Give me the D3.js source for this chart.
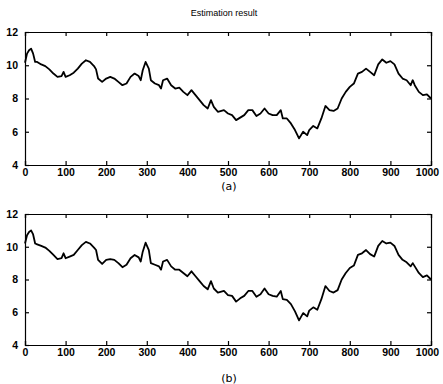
<!DOCTYPE html>
<html>
<head>
<meta charset="utf-8">
<script src="https://cdn.jsdelivr.net/npm/d3@7"></script>
<style>
  body { margin: 0; background: #fff; }
  svg text { font-family: "Liberation Sans", Arial, sans-serif; fill: #000; }
</style>
</head>
<body>
<div id="chart"></div>
<script>
// sample index along the run
const steps = [0, 5, 10, 15, 20, 25, 30, 40, 50, 60, 70, 80, 90, 95, 100, 110, 120, 130, 140, 150,
  160, 170, 175, 180, 190, 200, 210, 220, 230, 240, 250, 260, 270, 280, 285, 290, 297, 305, 310, 320,
  330, 335, 340, 350, 360, 370, 380, 390, 400, 410, 420, 430, 440, 450, 458, 465, 475, 490, 500, 510,
  520, 530, 540, 550, 560, 570, 580, 590, 600, 610, 620, 630, 635, 645, 655, 665, 675, 685, 695, 700,
  710, 720, 730, 740, 750, 760, 770, 780, 790, 800, 810, 820, 830, 840, 850, 860, 870, 880, 890, 900,
  910, 920, 930, 940, 950, 955, 960, 970, 980, 990, 1000];

// panel (a)
const seriesA = [10.15, 10.7, 10.9, 11.0, 10.7, 10.2, 10.2, 10.05, 9.95, 9.75, 9.5, 9.3, 9.35, 9.6, 9.3, 9.4, 9.55, 9.8, 10.1, 10.3,
  10.2, 9.95, 9.75, 9.2, 9.0, 9.2, 9.3, 9.2, 9.0, 8.8, 8.9, 9.3, 9.5, 9.35, 9.1, 9.7, 10.2, 9.8, 9.1, 8.9,
  8.8, 8.6, 9.1, 9.2, 8.8, 8.6, 8.65, 8.4, 8.2, 8.5, 8.2, 7.9, 7.6, 7.4, 7.9, 7.5, 7.2, 7.3, 7.1, 7.0,
  6.7, 6.85, 7.0, 7.3, 7.3, 6.95, 7.1, 7.4, 7.1, 7.0, 7.0, 7.3, 6.8, 6.8, 6.5, 6.1, 5.6, 6.0, 5.8, 6.1,
  6.35, 6.2, 6.8, 7.55, 7.3, 7.25, 7.4, 8.0, 8.4, 8.7, 8.9, 9.5, 9.6, 9.8, 9.6, 9.4, 10.05, 10.35, 10.15, 10.25,
  10.05, 9.5, 9.2, 9.1, 8.8, 9.1, 8.8, 8.4, 8.2, 8.25, 8.0];

// panel (b)
const seriesB = [10.2, 10.7, 10.9, 11.0, 10.75, 10.2, 10.15, 10.05, 9.95, 9.75, 9.5, 9.25, 9.3, 9.6, 9.3, 9.4, 9.5, 9.8, 10.1, 10.3,
  10.2, 9.95, 9.8, 9.2, 8.95, 9.2, 9.25, 9.2, 9.0, 8.75, 8.9, 9.3, 9.5, 9.35, 9.1, 9.7, 10.25, 9.8, 9.0, 8.9,
  8.8, 8.6, 9.1, 9.2, 8.8, 8.6, 8.6, 8.4, 8.2, 8.5, 8.2, 7.9, 7.6, 7.4, 7.9, 7.45, 7.2, 7.3, 7.05, 7.0,
  6.65, 6.85, 7.0, 7.3, 7.3, 6.95, 7.1, 7.45, 7.1, 7.0, 6.95, 7.3, 6.8, 6.75, 6.5, 6.05, 5.5, 5.95, 5.75, 6.1,
  6.3, 6.15, 6.8, 7.6, 7.3, 7.2, 7.35, 8.0, 8.4, 8.7, 8.85, 9.5, 9.6, 9.8, 9.55, 9.4, 10.05, 10.35, 10.2, 10.25,
  10.05, 9.5, 9.2, 9.05, 8.8, 9.0, 8.8, 8.4, 8.15, 8.25, 8.0];

const xTicks = [0, 100, 200, 300, 400, 500, 600, 700, 800, 900, 1000];
const yTicks = [4, 6, 8, 10, 12];
const title = "Estimation result";
const panelLabels = ["(a)", "(b)"];

const width = 443, height = 384;
const svg = d3.select("#chart").append("svg")
  .attr("width", width)
  .attr("height", height);

svg.append("text")
  .attr("x", 224).attr("y", 16)
  .attr("text-anchor", "middle")
  .style("font-size", "9px")
  .text(title);

const panels = [
  { values: seriesA, top: 32, bottom: 165, label: panelLabels[0], labelY: 190 },
  { values: seriesB, top: 214, bottom: 345, label: panelLabels[1], labelY: 382 }
];

const x = d3.scaleLinear().domain([0, 1000]).range([25, 431]);

panels.forEach(p => {
  const y = d3.scaleLinear().domain([4, 12]).range([p.bottom, p.top]);
  const g = svg.append("g");

  // axes, matlab box style with inward ticks
  const fmt = d3.format("d");
  const bottomAx = g.append("g")
    .attr("transform", "translate(0," + p.bottom + ")")
    .call(d3.axisBottom(x).tickValues(xTicks).tickSize(-4).tickPadding(4).tickFormat(fmt));
  const topAx = g.append("g")
    .attr("transform", "translate(0," + p.top + ")")
    .call(d3.axisTop(x).tickValues(xTicks).tickSize(-4).tickFormat(""));
  const leftAx = g.append("g")
    .attr("transform", "translate(25,0)")
    .call(d3.axisLeft(y).tickValues(yTicks).tickSize(-4).tickPadding(7).tickFormat(fmt));
  const rightAx = g.append("g")
    .attr("transform", "translate(431,0)")
    .call(d3.axisRight(y).tickValues(yTicks).tickSize(-4).tickFormat(""));

  [bottomAx, topAx, leftAx, rightAx].forEach(a => {
    a.select(".domain").attr("stroke", "#000").attr("stroke-width", 1.2);
    a.selectAll(".tick line").attr("stroke", "#000").attr("stroke-width", 1.2);
    a.selectAll("text").style("font-size", "10.5px").style("font-weight", "bold")
      .style("font-family", "'Liberation Sans', sans-serif");
  });
  // last label sits a little left so it stays inside the picture
  bottomAx.selectAll(".tick text").filter(d => d === 1000).attr("dx", -4);

  // the run itself
  g.append("path")
    .datum(p.values)
    .attr("fill", "none")
    .attr("stroke", "#000")
    .attr("stroke-width", 1.8)
    .attr("stroke-linejoin", "round")
    .attr("d", d3.line()
      .x((d, i) => x(steps[i]))
      .y(d => y(d)));

  svg.append("text")
    .attr("x", 229).attr("y", p.labelY)
    .attr("text-anchor", "middle")
    .style("font-size", "11px")
    .style("font-family", "'DejaVu Sans', sans-serif")
    .text(p.label);
});
</script>
</body>
</html>
